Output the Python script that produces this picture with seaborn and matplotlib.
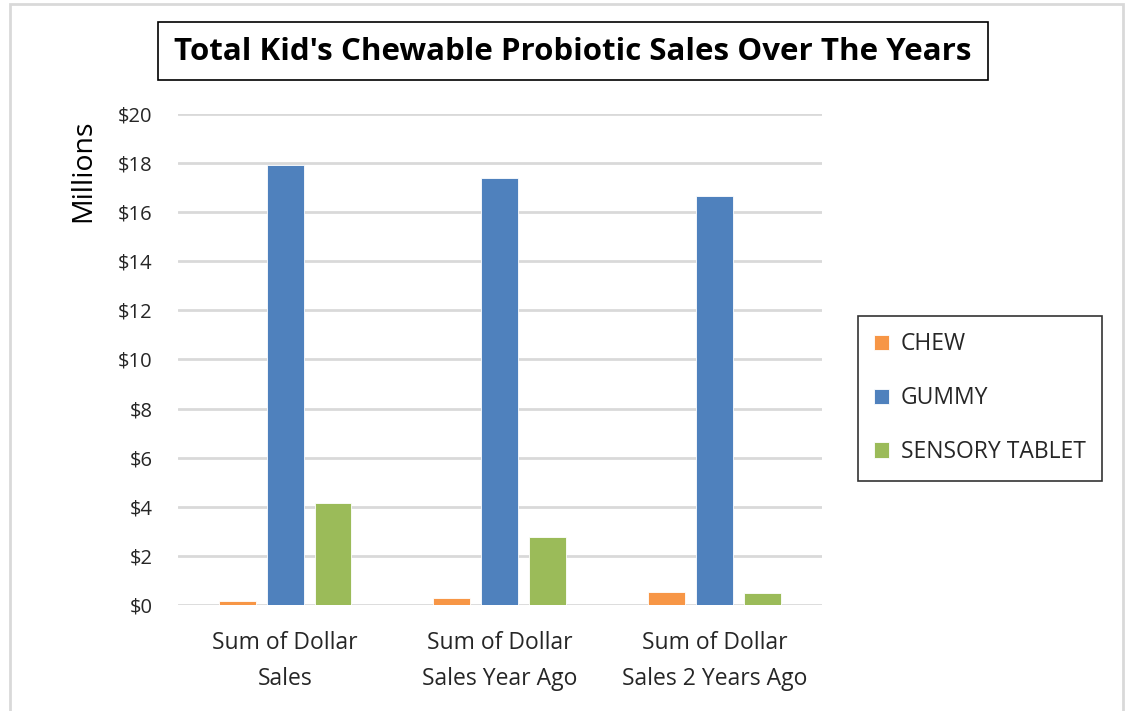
import matplotlib
matplotlib.use("Agg")
import matplotlib.pyplot as plt
import seaborn as sns
import pandas as pd
from matplotlib.patches import Rectangle

# Sales in millions of dollars per product form
periods = ["Sum of Dollar\nSales", "Sum of Dollar\nSales Year Ago", "Sum of Dollar\nSales 2 Years Ago"]
forms = ["CHEW", "GUMMY", "SENSORY TABLET"]
chew = [0.16, 0.30, 0.53]
gummy = [17.92, 17.39, 16.66]
sensory_tablet = [4.14, 2.77, 0.48]
y_ticks = [0, 2, 4, 6, 8, 10, 12, 14, 16, 18, 20]
colors = ["#F79646", "#4F81BD", "#9BBB59"]

df = pd.DataFrame({
    "period": periods * 3,
    "form": [forms[0]] * 3 + [forms[1]] * 3 + [forms[2]] * 3,
    "sales": chew + gummy + sensory_tablet,
})

sns.set_theme(style="white")
plt.rcParams["font.family"] = ["Open Sans", "DejaVu Sans"]

fig = plt.figure(figsize=(11.32, 7.11), dpi=100)
ax = fig.add_axes([0.157, 0.149, 0.569, 0.691])

sns.barplot(data=df, x="period", y="sales", hue="form", order=periods,
            hue_order=forms, palette=colors, width=0.67, gap=0.23,
            saturation=1, ax=ax, legend=True, edgecolor="white", linewidth=0.6)

ax.set_ylim(0, 20)
ax.set_xlim(-0.5, 2.5)
ax.set_yticks(y_ticks)
ax.set_yticklabels([f"${v}" for v in y_ticks], fontsize=14.5, color="#262626")
for lbl in ax.get_xticklabels():
    lbl.set_linespacing(1.65)
ax.tick_params(axis="x", labelsize=16.5, labelcolor="#262626", pad=19, length=0)
ax.tick_params(axis="y", length=0, pad=18)
ax.set_xlabel("")
ax.set_ylabel("")
ax.yaxis.grid(True, color="#D9D9D9", linewidth=2)
ax.set_axisbelow(True)
for s in ax.spines.values():
    s.set_visible(False)

fig.text(83 / 1132, 1 - 120 / 711, "Millions", rotation=90,
         ha="center", va="top", fontsize=20.5, color="black")

leg = ax.legend(loc="upper left", bbox_to_anchor=(858 / 1132, 1 - 316 / 711),
                bbox_transform=fig.transFigure, borderaxespad=0, frameon=True,
                fontsize=16.5, handlelength=0.65, handleheight=0.65,
                labelspacing=1.3, borderpad=0.72, handletextpad=0.5,
                fancybox=False, edgecolor="black")
leg.get_frame().set_linewidth(1.2)
for t in leg.get_texts():
    t.set_color("#262626")

# title with its own frame
fig.patches.append(Rectangle((158 / 1132, 1 - 80 / 711), 830 / 1132, 58 / 711,
                             transform=fig.transFigure, facecolor="white",
                             edgecolor="black", linewidth=1.2))
fig.text(573 / 1132, 1 - 52 / 711, "Total Kid's Chewable Probiotic Sales Over The Years",
         ha="center", va="center", fontsize=22.5, fontweight="bold", color="black")

# outer light border of the chart area
fig.patches.append(Rectangle((0.009, -0.01), 0.983, 1.004, transform=fig.transFigure,
                             fill=False, edgecolor="#D9D9D9", linewidth=2))

fig.savefig("out.png", dpi=100)
